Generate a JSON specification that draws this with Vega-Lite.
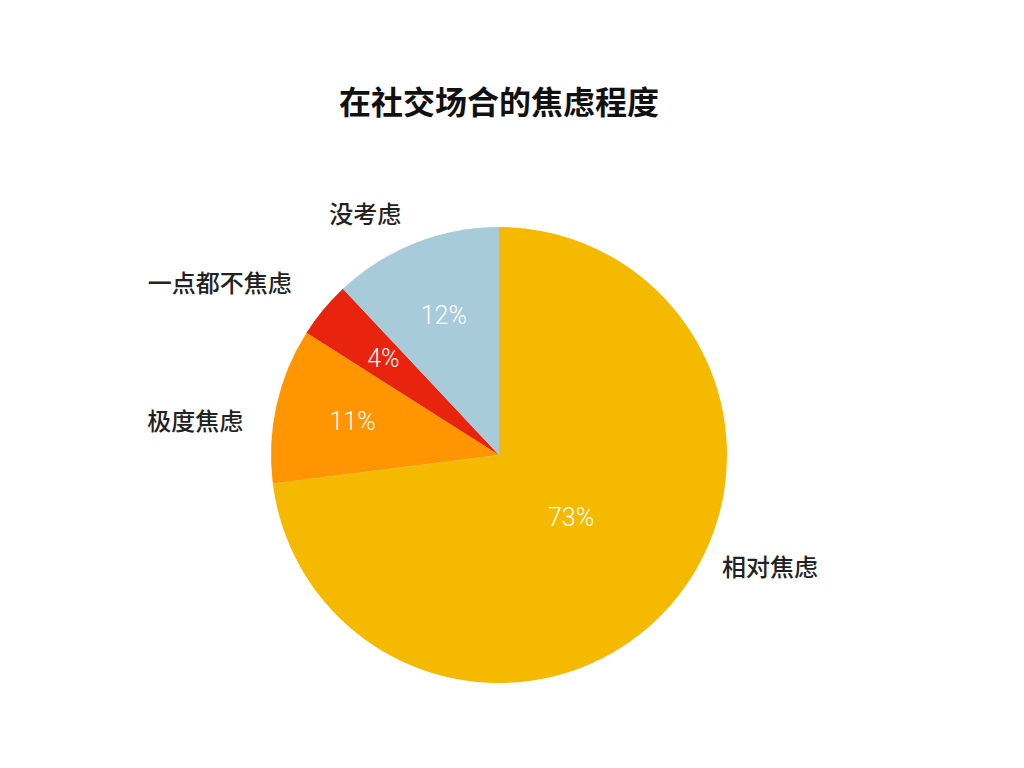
{
  "$schema": "https://vega.github.io/schema/vega-lite/v6.json",
  "width": 998,
  "height": 626,
  "autosize": "none",
  "padding": {"left": 0, "top": 142, "right": 0, "bottom": 0},
  "background": "white",
  "title": {
    "text": "在社交场合的焦虑程度",
    "font": "Noto Sans CJK SC",
    "fontSize": 32,
    "fontWeight": "bold",
    "color": "#111111",
    "anchor": "middle",
    "baseline": "bottom",
    "offset": -11
  },
  "data": {
    "values": [
      {"cat": "相对焦虑", "value": 73, "pct": "73%", "ord": 1},
      {"cat": "极度焦虑", "value": 11, "pct": "11%", "ord": 2},
      {"cat": "一点都不焦虑", "value": 4, "pct": "4%", "ord": 3},
      {"cat": "没考虑", "value": 12, "pct": "12%", "ord": 4}
    ]
  },
  "encoding": {
    "theta": {"field": "value", "type": "quantitative", "stack": true},
    "order": {"field": "ord", "type": "quantitative"}
  },
  "layer": [
    {
      "mark": {"type": "arc", "outerRadius": 228},
      "encoding": {
        "color": {
          "field": "cat",
          "type": "nominal",
          "scale": {
            "domain": ["相对焦虑", "极度焦虑", "一点都不焦虑", "没考虑"],
            "range": ["#F5B900", "#FF9500", "#E8240F", "#A8CBDA"]
          },
          "legend": null
        }
      }
    },
    {
      "mark": {"type": "text", "radius": 150, "font": "Roboto", "fontWeight": 300, "fontSize": 25, "color": "white", "align": "center", "baseline": "middle"},
      "encoding": {
        "text": {"field": "pct", "type": "nominal", "condition": {"test": "datum.cat === '相对焦虑'", "value": ""}}
      }
    },
    {
      "mark": {"type": "text", "radius": 96, "font": "Roboto", "fontWeight": 300, "fontSize": 25, "color": "white", "align": "center", "baseline": "middle"},
      "encoding": {
        "text": {"field": "pct", "type": "nominal", "condition": {"test": "datum.cat !== '相对焦虑'", "value": ""}}
      }
    },
    {
      "mark": {"type": "text", "radius": 260, "font": "Noto Sans CJK SC", "fontWeight": 500, "fontSize": 24, "color": "#222222", "align": "center", "baseline": "middle", "dx": -38, "dy": 3},
      "encoding": {
        "text": {"field": "cat", "type": "nominal", "condition": {"test": "datum.cat !== '没考虑'", "value": ""}}
      }
    },
    {
      "mark": {"type": "text", "radius": 260, "font": "Noto Sans CJK SC", "fontWeight": 500, "fontSize": 24, "color": "#222222", "align": "right", "baseline": "middle", "dx": -7, "dy": -4},
      "encoding": {
        "text": {"field": "cat", "type": "nominal", "condition": {"test": "datum.cat !== '一点都不焦虑'", "value": ""}}
      }
    },
    {
      "mark": {"type": "text", "radius": 260, "font": "Noto Sans CJK SC", "fontWeight": 500, "fontSize": 24, "color": "#222222", "align": "right", "baseline": "middle", "dx": -2, "dy": 25},
      "encoding": {
        "text": {"field": "cat", "type": "nominal", "condition": {"test": "datum.cat !== '极度焦虑'", "value": ""}}
      }
    },
    {
      "mark": {"type": "text", "radius": 260, "font": "Noto Sans CJK SC", "fontWeight": 500, "fontSize": 24, "color": "#222222", "align": "left", "baseline": "middle", "dx": 28, "dy": -58},
      "encoding": {
        "text": {"field": "cat", "type": "nominal", "condition": {"test": "datum.cat !== '相对焦虑'", "value": ""}}
      }
    }
  ],
  "view": {"stroke": null}
}
